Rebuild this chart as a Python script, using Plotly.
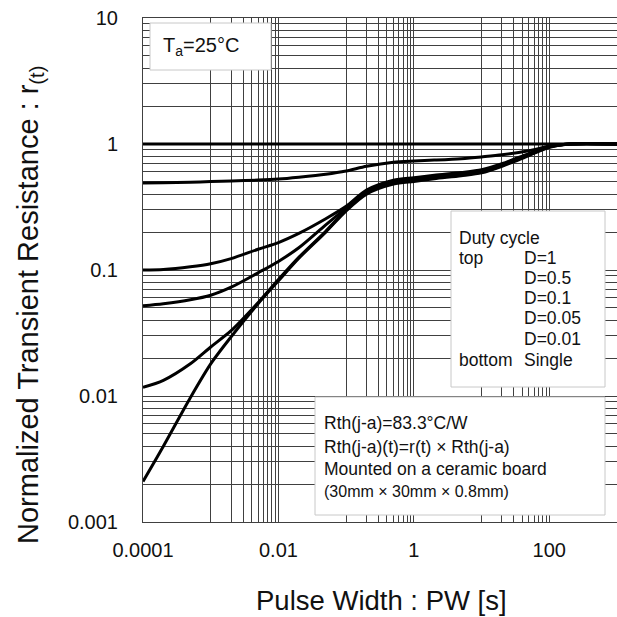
import plotly.graph_objects as go

# ---------------- data ----------------
pw_d1 = [1e-4, 1e3]
r_d1 = [1.0, 1.0]

pw = [1e-4, 2e-4, 5e-4, 1e-3, 2e-3, 5e-3, 1e-2, 2e-2, 5e-2, 0.1, 0.2, 0.5, 1, 2, 5, 10, 20, 50, 100, 200, 1000]

r_d05 = [0.49, 0.492, 0.497, 0.503, 0.508, 0.517, 0.527, 0.545, 0.575, 0.61, 0.665, 0.717, 0.733, 0.745, 0.765,
         0.79, 0.82, 0.885, 0.96, 1.0, 1.0]
r_d01 = [0.100, 0.101, 0.106, 0.112, 0.123, 0.146, 0.165, 0.195, 0.255, 0.32, 0.43, 0.515, 0.54, 0.565, 0.594,
         0.625, 0.697, 0.84, 0.955, 1.0, 1.0]
r_d005 = [0.052, 0.054, 0.058, 0.063, 0.073, 0.095, 0.117, 0.150, 0.228, 0.31, 0.42, 0.50, 0.527, 0.552, 0.582,
          0.612, 0.685, 0.83, 0.95, 1.0, 1.0]
r_d001 = [0.0117, 0.0133, 0.018, 0.0245, 0.033, 0.055, 0.084, 0.126, 0.203, 0.30, 0.41, 0.49, 0.515, 0.54, 0.57,
          0.60, 0.675, 0.82, 0.945, 1.0, 1.0]
r_single = [0.0021, 0.0040, 0.0097, 0.0180, 0.0295, 0.054, 0.082, 0.124, 0.200, 0.295, 0.40, 0.48, 0.505, 0.53, 0.56,
            0.59, 0.665, 0.81, 0.94, 1.0, 1.0]

x_tick_vals = [1e-4, 1e-2, 1, 100]
x_tick_text = ["0.0001", "0.01", "1", "100"]
y_tick_vals = [0.001, 0.01, 0.1, 1, 10]
y_tick_text = ["0.001", "0.01", "0.1", "1", "10"]

x_title = "Pulse Width : PW [s]"
y_title = "Normalized Transient Resistance : r<sub>(t)</sub>"
ta_text = "T<sub>a</sub>=25°C"
duty_title = "Duty cycle"
duty_left = ["top", "", "", "", "", "bottom"]
duty_right = ["D=1", "D=0.5", "D=0.1", "D=0.05", "D=0.01", "Single"]
rth_lines = ["Rth(j-a)=83.3°C/W", "Rth(j-a)(t)=r(t) × Rth(j-a)", "Mounted on a ceramic board", "(30mm × 30mm × 0.8mm)"]

# ---------------- figure ----------------
W, H = 617, 617
L, R, T, B = 143, 0, 18, 95
PW_ = W - L - R
PH_ = H - T - B

def px(xp):
    return (xp - L) / PW_

def py(yp):
    return (H - B - yp) / PH_

FONT = "Liberation Sans, Arial, sans-serif"

fig = go.Figure()
series = [(pw_d1, r_d1), (pw, r_d05), (pw, r_d01), (pw, r_d005), (pw, r_d001), (pw, r_single)]
for xs, ys in series:
    fig.add_trace(go.Scatter(x=xs, y=ys, mode="lines", line=dict(color="black", width=3, shape="spline", smoothing=0.8),
                             showlegend=False, hoverinfo="skip"))

x_minor = []
for dec in [1e-4, 1e-2, 1, 100]:
    x_minor.append(dec * 10)
for dec in [1e-3, 1e-1, 10]:
    x_minor += [k * dec for k in range(2, 10)]
y_minor = []
for dec in [1e-3, 1e-2, 1e-1, 1]:
    y_minor += [k * dec for k in range(2, 10)]

GRID = "#404040"
fig.update_xaxes(type="log", range=[-4, 3], tickvals=x_tick_vals, ticktext=x_tick_text,
                 showgrid=True, gridcolor=GRID, gridwidth=1, ticks="", ticklabelstandoff=10,
                 minor=dict(tickvals=x_minor, showgrid=True, gridcolor=GRID, gridwidth=1, ticks=""),
                 showline=True, linecolor=GRID, linewidth=1, mirror=True, zeroline=False,
                 tickfont=dict(family=FONT, size=20, color="#111"))
fig.update_yaxes(type="log", range=[-3, 1], tickvals=y_tick_vals, ticktext=y_tick_text,
                 showgrid=True, gridcolor=GRID, gridwidth=1, ticks="", ticklabelstandoff=20,
                 minor=dict(tickvals=y_minor, showgrid=True, gridcolor=GRID, gridwidth=1, ticks=""),
                 showline=True, linecolor=GRID, linewidth=1, mirror=True, zeroline=False,
                 tickfont=dict(family=FONT, size=20, color="#111"))

shapes = []
def box(x0, y0, x1, y1):
    shapes.append(dict(type="rect", xref="paper", yref="paper", x0=px(x0), x1=px(x1), y0=py(y1), y1=py(y0),
                       fillcolor="white", line=dict(color="#c8c8c8", width=1), layer="above"))
box(150, 23, 271, 70)
box(451, 211, 605, 387)
box(315, 397, 605, 515)

ann = []
def text(s, x, y, size, anchor="left"):
    ann.append(dict(text=s, x=px(x), y=py(y), xref="paper", yref="paper", showarrow=False,
                    xanchor=anchor, yanchor="middle", font=dict(family=FONT, size=size, color="#111")))
text(ta_text, 161, 46, 20)
text(duty_title, 457, 238, 17.5)
ys_d = [258, 278, 298, 318, 339, 360]
for lt, rt, yv in zip(duty_left, duty_right, ys_d):
    if lt:
        text(lt, 457, yv, 17.5)
    text(rt, 522, yv, 17.5)
for s, yv, fs in zip(rth_lines, [423, 447, 469, 491], [17.5, 17.5, 17.5, 16]):
    text(s, 322, yv, fs)

ann.append(dict(text=x_title, x=px(381), y=py(600), xref="paper", yref="paper", showarrow=False,
                xanchor="center", yanchor="middle", font=dict(family=FONT, size=27.5, color="#111")))
ann.append(dict(text=y_title, x=px(30), y=py(305), xref="paper", yref="paper", showarrow=False, textangle=-90,
                xanchor="center", yanchor="middle", font=dict(family=FONT, size=29, color="#111")))

fig.update_layout(width=W, height=H, margin=dict(l=L, r=R, t=T, b=B), plot_bgcolor="white", paper_bgcolor="white",
                  shapes=shapes, annotations=ann, showlegend=False)

fig.write_html("out.html", config={"displayModeBar": False},
               post_script="document.body.style.margin='0px';document.body.style.overflow='hidden';")
